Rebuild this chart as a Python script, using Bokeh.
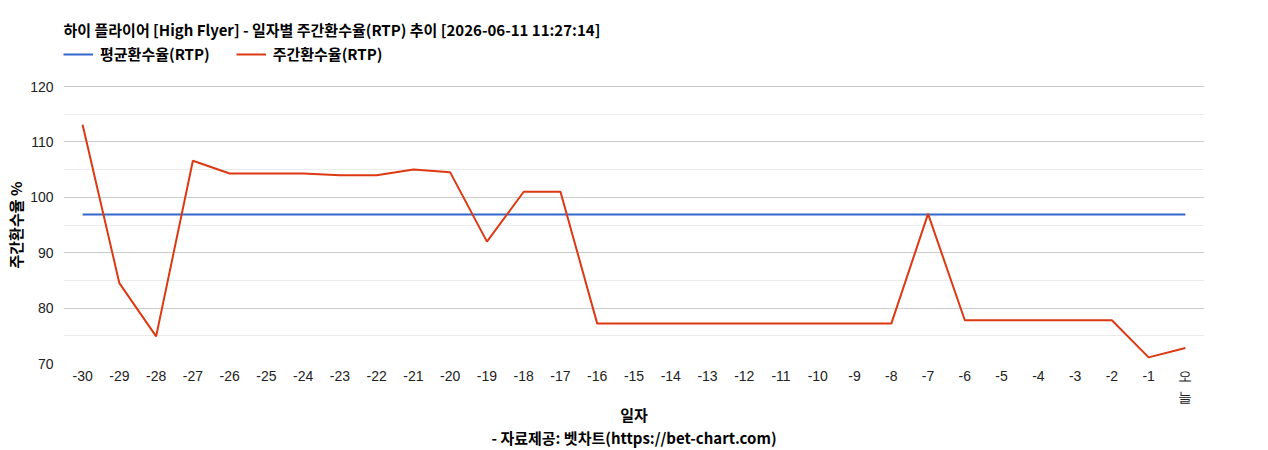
from bokeh.plotting import figure
from bokeh.models import Legend, LegendItem, FixedTicker, Range1d, Title, Label, LinearAxis
from bokeh.embed import file_html
from bokeh.resources import INLINE

# ---- data ----
days = list(range(-30, 1))
day_labels = [str(d) for d in range(-30, 0)] + ["오"]   # "오늘" is wrapped over two lines
today_second_line = "늘"
weekly_rtp = [113.1, 84.5, 74.9, 106.6, 104.3, 104.3, 104.3, 104.0, 104.0, 105.0,
              104.5, 92.0, 101.0, 101.0, 77.2, 77.2, 77.2, 77.2, 77.2, 77.2,
              77.2, 77.2, 77.2, 97.0, 77.8, 77.8, 77.8, 77.8, 77.8, 71.1, 72.8]
avg_rtp_value = 96.9
avg_rtp = [avg_rtp_value] * len(days)
y_ticks = [70, 80, 90, 100, 110, 120]
y_minor_ticks = [75, 85, 95, 105, 115]

title_text = "하이 플라이어 [High Flyer] - 일자별 주간환수율(RTP) 추이 [2026-06-11 11:27:14]"
series_names = ["평균환수율(RTP)", "주간환수율(RTP)"]
y_label = "주간환수율 %"
x_label = "일자"
footer = "- 자료제공: 벳차트(https://bet-chart.com)"

KR = "Noto Sans CJK KR"
LAT = "Liberation Sans"
FS = "15px"

W, H = 1268, 450
ML, MR, MB = 63, 64, 87
FH = H - MB                      # frame spans from the top of the canvas
PX_PER_UNIT = 277 / 50           # grid spacing as in the reference
y_top = 70 + FH / PX_PER_UNIT

p = figure(width=W, height=H, output_backend="svg", toolbar_location=None, title=None,
           x_range=Range1d(-30.52, 0.52), y_range=Range1d(70, y_top),
           min_border_left=ML, min_border_right=MR, min_border_top=0, min_border_bottom=MB)
p.outline_line_color = None
p.background_fill_color = "white"

r_avg = p.line(days, avg_rtp, line_color="#3366cc", line_width=2)
r_wk = p.line(days, weekly_rtp, line_color="#dc3912", line_width=2)

legend = Legend(items=[LegendItem(label=series_names[0], renderers=[r_avg]),
                       LegendItem(label=series_names[1], renderers=[r_wk])],
                orientation="horizontal", location=(0, FH - 64),
                border_line_color=None, background_fill_alpha=0,
                label_text_font=KR, label_text_font_size=FS, label_text_font_style="bold",
                label_text_color="#000000", glyph_width=30, glyph_height=16,
                label_standoff=7, spacing=26, padding=0, margin=0)
p.add_layout(legend, "center")

p.add_layout(Label(x=0, y=FH - 29, x_units="screen", y_units="screen", text=title_text,
                   text_align="left", text_baseline="middle", text_font=KR,
                   text_font_size=FS, text_font_style="bold", text_color="#000000"))

# axes
def style_x(ax):
    ax.axis_line_color = None
    ax.major_tick_line_color = None
    ax.minor_tick_line_color = None
    ax.major_tick_out = 0
    ax.major_tick_in = 0
    ax.minor_tick_out = 0
    ax.major_label_text_font = LAT
    ax.major_label_text_font_size = "14px"
    ax.major_label_text_color = "#222222"

xa = p.xaxis[0]
xa.ticker = FixedTicker(ticks=days)
xa.major_label_overrides = {d: l for d, l in zip(days, day_labels)}
style_x(xa)
xa.major_label_standoff = 4

xa2 = LinearAxis(ticker=FixedTicker(ticks=[0]), major_label_overrides={0: today_second_line})
style_x(xa2)
xa2.major_label_standoff = 2
xa2.axis_label = x_label
xa2.axis_label_text_font = KR
xa2.axis_label_text_font_size = FS
xa2.axis_label_text_font_style = "bold"
xa2.axis_label_text_color = "#000000"
xa2.axis_label_standoff = -4
p.add_layout(xa2, "below")

ya = p.yaxis[0]
ya.ticker = FixedTicker(ticks=y_ticks, minor_ticks=y_minor_ticks)
ya.axis_line_color = None
ya.major_tick_line_color = None
ya.minor_tick_line_color = None
ya.major_tick_out = 0
ya.major_tick_in = 0
ya.minor_tick_out = 0
ya.major_label_standoff = 10
ya.major_label_text_font = LAT
ya.major_label_text_font_size = "14px"
ya.major_label_text_color = "#222222"

# y-axis title, placed beside the gridded part of the frame
ytitle = Title(text=y_label, align="left", text_font=KR, text_font_size=FS,
               text_font_style="bold", text_color="#000000", standoff=4, offset=95)
p.add_layout(ytitle, "left")

p.xgrid.grid_line_color = None
p.ygrid.grid_line_color = "#cccccc"
p.ygrid.minor_grid_line_color = "#ebebeb"

foot = Title(text=footer, align="center", text_font=KR, text_font_size=FS,
             text_font_style="bold", text_color="#000000", standoff=-6)
p.add_layout(foot, "below")

open("out.html", "w").write(file_html(p, INLINE))
